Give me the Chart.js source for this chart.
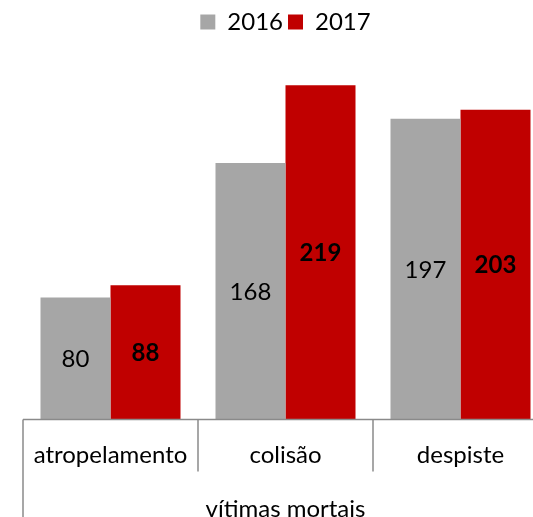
<!DOCTYPE html>
<html><head><meta charset="utf-8">
<script src="https://cdn.jsdelivr.net/npm/chart.js@4"></script>
<style>html,body{margin:0;padding:0;overflow:hidden;background:#fff}#wrap{width:548px;height:517px}</style>
</head><body><div id="wrap"><canvas id="c" width="548" height="517"></canvas></div>
<script>
const categories = ['atropelamento', 'colisão', 'despiste'];
const groupLabel = 'vítimas mortais';
const seriesNames = ['2016', '2017'];
const values2016 = [80, 168, 197];
const values2017 = [88, 219, 203];

const FONT = 'Lato';
const FS = 24;

const axisLines = {
  id: 'axisLines',
  afterDraw(chart) {
    const {ctx, chartArea} = chart;
    const xs = chart.scales.x;
    const n = categories.length;
    const half = (xs.getPixelForValue(1) - xs.getPixelForValue(0)) / 2;
    const y = chartArea.bottom;
    ctx.save();
    ctx.strokeStyle = '#8a8a8a';
    ctx.lineWidth = 1.5;
    ctx.beginPath();
    ctx.moveTo(chartArea.left, y); ctx.lineTo(chartArea.right, y);
    for (let i = 0; i <= n; i++) {
      const x = (i < n ? xs.getPixelForValue(i) - half : xs.getPixelForValue(n - 1) + half);
      ctx.moveTo(x, y);
      ctx.lineTo(x, i === 0 ? chart.height : y + 52);
    }
    ctx.stroke();
    ctx.restore();
  }
};

const dataLabels = {
  id: 'dataLabels',
  afterDatasetsDraw(chart) {
    const {ctx} = chart;
    ctx.save();
    ctx.textAlign = 'center';
    ctx.textBaseline = 'middle';
    ctx.fillStyle = '#000';
    chart.data.datasets.forEach((ds, di) => {
      const meta = chart.getDatasetMeta(di);
      ctx.font = (di === 1 ? 'bold ' : '') + FS + 'px ' + FONT;
      meta.data.forEach((el, i) => {
        ctx.fillText(String(ds.data[i]), el.x, (el.y + el.base) / 2 + 1);
      });
    });
    ctx.restore();
  }
};

new Chart(document.getElementById('c'), {
  type: 'bar',
  data: {
    labels: categories,
    datasets: [
      {label: seriesNames[0], data: values2016, backgroundColor: '#A6A6A6', borderWidth: 0},
      {label: seriesNames[1], data: values2017, backgroundColor: '#C00000', borderWidth: 0}
    ]
  },
  options: {
    responsive: false,
    animation: false,
    events: [],
    layout: {padding: {left: 23, right: 0, top: 5, bottom: 0}},
    plugins: {
      legend: {
        position: 'top',
        labels: {boxWidth: 15, boxHeight: 15, padding: 5, color: '#000', font: {family: FONT, size: FS}}
      },
      tooltip: {enabled: false}
    },
    datasets: {bar: {categoryPercentage: 0.8, barPercentage: 1.0}},
    scales: {
      y: {display: false, min: 0, max: 246},
      x: {
        grid: {display: false},
        border: {display: false},
        ticks: {color: '#000', padding: 13, font: {family: FONT, size: FS}, maxRotation: 0, autoSkip: false},
        title: {display: true, text: groupLabel, color: '#000', font: {family: FONT, size: FS, lineHeight: 1}, padding: {top: 0, bottom: -4}},
        afterFit(scale) { scale.height = 97.5; }
      }
    }
  },
  plugins: [axisLines, dataLabels]
});
</script></body></html>
